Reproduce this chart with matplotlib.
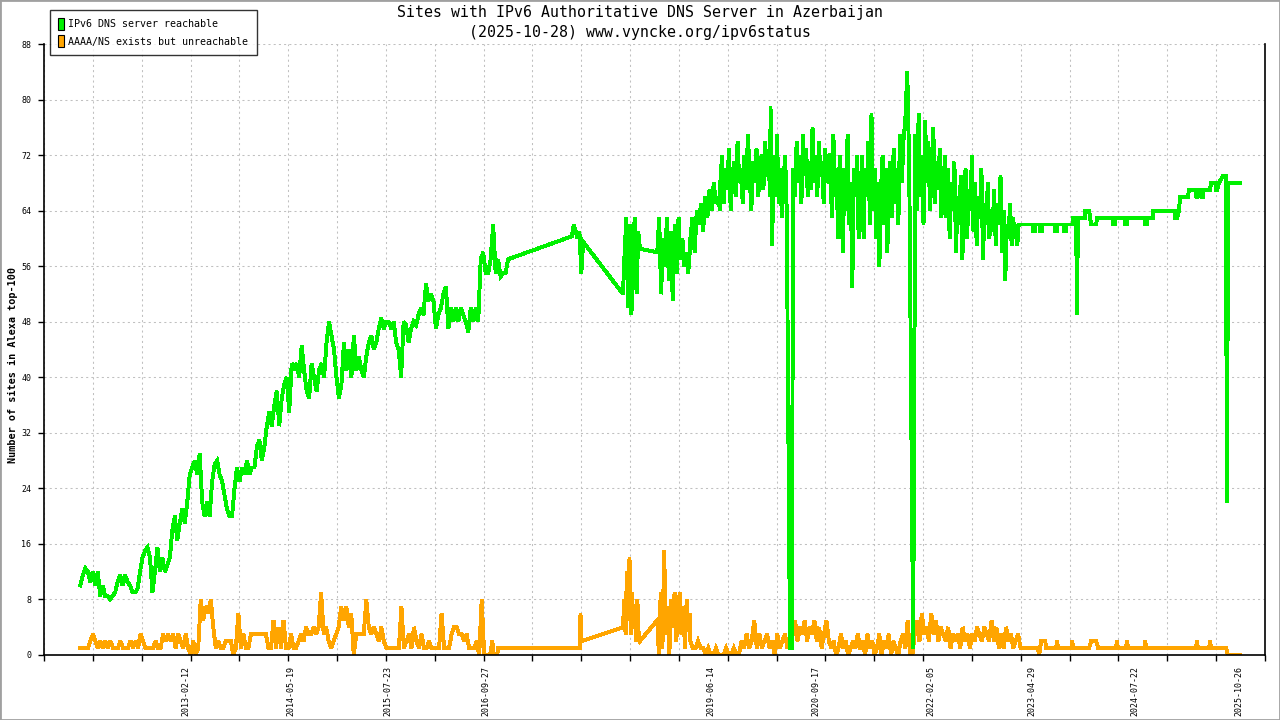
import numpy as np
import pandas as pd
import matplotlib
matplotlib.use("Agg")
import matplotlib.pyplot as plt
import matplotlib.dates as mdates
from matplotlib.patches import Patch, Rectangle

plt.rcParams['font.family'] = ['DejaVu Sans Mono']

GREEN = '#00f000'
ORANGE = '#ffa500'

# green: IPv6 DNS server reachable, noisy stretches (start, end, values)
g_2011 = [10, 11.5, 12.5, 12, 10.5, 12, 10, 12, 8.5, 10,
          8.5, 8.5, 8, 8.5, 9, 10.5, 11.5, 10, 11.5, 10.5,
          10, 9, 9, 9.5, 12, 14, 15, 15.5, 14, 9,
          12, 15.5, 12, 14, 12, 13, 14, 18, 20, 16.5,
          19, 21, 19, 22, 26, 27, 28, 26, 29, 22,
          20, 22, 20, 25, 27.5, 28, 26, 25, 23, 21,
          20, 20, 24, 27, 25, 27, 26, 28, 26, 27,
          27, 30, 31, 28, 30, 33, 35, 33, 36, 38,
          33, 37, 39, 40, 35, 42, 41, 42, 40, 44.5,
          41, 38, 37, 42, 40, 38, 41, 42, 40, 45,
          48, 46, 44, 40, 37, 39, 45, 41, 44, 40,
          46, 41, 43, 41, 40, 43, 45, 46, 44, 45,
          47, 48.5, 47, 48, 48, 47, 48, 45, 44, 40,
          48, 47.5, 45, 47, 48, 47.5, 49, 50, 49, 53.5,
          51, 52, 51, 47, 49, 50, 52, 53, 47, 50,
          48, 50, 48, 50, 49, 48, 46.5, 50, 48, 50,
          48, 57, 58, 55, 55, 57, 62, 55, 57, 54.5, 55, 55, 57]
g_2017 = [60.3, 62, 61, 60, 61, 55, 59.5]
g_2018a = [52, 58, 63, 50, 62, 49, 60, 63, 52, 61, 58.5]
g_2018b = [58, 63, 52, 60, 56, 63, 54, 61, 51, 62, 55, 63, 57, 60, 56, 58, 55, 59]
g_2019a = [60, 63, 58, 64, 62, 65, 61, 66, 63, 67, 64, 68, 65, 66, 64]
g_2019b = [68, 72, 65, 70, 67, 73, 64, 69, 71, 66, 74, 68, 70, 65, 72,
           67, 75, 69, 64, 71, 68, 73, 66, 70, 72, 67, 74, 69, 71, 66]
g_2020a = [79, 59, 72, 66, 75, 65, 70, 63, 68, 72, 64, 33, 1, 1, 67]
g_2020b = [70, 66, 74, 68, 72, 65, 75, 69, 73, 66, 71, 67, 76, 68, 72, 66,
           74, 69, 71, 65, 73, 68, 70, 72]
g_2020c = [72, 63, 75, 66, 70, 60, 72, 66, 58, 70, 64, 75, 62, 68, 53, 70,
           66, 72, 60, 67]
g_2021a = [65, 72, 60, 70, 66, 74, 62, 78, 64, 70, 60, 68, 56, 67, 72, 62,
           70, 58, 66, 71, 63, 73, 65, 70, 62, 75, 68, 72]
g_2021b = [74, 77, 84, 70, 36, 1, 68]
g_2021c = [75, 64, 78, 66, 72, 62, 77, 68, 74, 64, 70, 76, 65, 71, 67, 73, 63, 70]
g_2022 = [66, 72, 63, 70, 60, 68, 64, 71, 58, 66, 62, 69, 57, 65, 70, 60,
          67, 64, 72, 61, 68, 59, 66, 63, 70, 57, 65, 62, 68, 60, 64, 61,
          67, 59, 65, 62, 69, 58, 64, 54, 62, 60, 65, 59, 63]

green_segments = [
    ("2011-11-05", "2017-01-01", g_2011),
    ("2017-10-09", "2017-11-28", g_2017),
    ("2018-05-22", "2018-08-05", g_2018a),
    ("2018-10-20", "2019-03-14", g_2018b),
    ("2019-03-15", "2019-07-24", g_2019a),
    ("2019-07-25", "2020-03-01", g_2019b),
    ("2020-03-02", "2020-06-10", g_2020a),
    ("2020-06-11", "2020-11-19", g_2020b),
    ("2020-11-20", "2021-04-01", g_2020c),
    ("2021-04-02", "2021-10-07", g_2021a),
    ("2021-10-08", "2021-11-29", g_2021b),
    ("2021-11-30", "2022-04-01", g_2021c),
    ("2022-04-02", "2023-02-04", g_2022),
]

green_tail_dates = [
    "2023-02-10", "2023-02-16", "2023-02-22", "2023-02-28", "2023-05-02", "2023-05-03",
    "2023-05-11", "2023-05-12", "2023-06-02", "2023-06-03", "2023-06-10", "2023-06-11",
    "2023-08-07", "2023-08-08", "2023-08-16", "2023-08-17", "2023-09-16", "2023-09-17",
    "2023-09-25", "2023-09-26", "2023-10-26", "2023-10-27", "2023-11-08", "2023-11-12",
    "2023-11-16", "2023-12-18", "2023-12-19", "2024-01-04", "2024-01-13", "2024-02-04",
    "2024-02-09", "2024-04-19", "2024-04-20", "2024-04-28", "2024-04-29", "2024-06-11",
    "2024-06-12", "2024-06-19", "2024-06-20", "2024-09-07", "2024-09-08", "2024-09-15",
    "2024-09-16", "2024-10-12", "2024-10-13", "2025-01-17", "2025-01-18", "2025-01-26",
    "2025-02-03", "2025-02-08", "2025-03-15", "2025-03-19", "2025-04-20", "2025-04-21",
    "2025-04-26", "2025-04-27", "2025-05-15", "2025-05-16", "2025-05-20", "2025-05-21",
    "2025-06-20", "2025-06-24", "2025-07-16", "2025-07-17", "2025-07-21", "2025-07-29",
    "2025-08-16", "2025-08-29", "2025-08-31", "2025-09-03", "2025-09-07", "2025-10-28"]
green_tail_values = [
    60, 62, 59, 62, 62, 61,
    61, 62, 62, 61, 61, 62,
    62, 61, 61, 62, 62, 61,
    61, 62, 62, 63, 63, 49,
    63, 63, 64, 64, 62, 62,
    63, 63, 62, 62, 63, 63,
    62, 62, 63, 63, 62, 62,
    63, 63, 64, 64, 63, 63,
    64, 66, 66, 67, 67, 66,
    66, 67, 67, 66, 66, 67,
    67, 68, 68, 67, 67, 68,
    69, 69, 45, 22, 68, 68]

# orange: AAAA/NS exists but unreachable
o_2011 = [1, 1, 1, 1, 2, 3, 2, 1, 2, 1,
          2, 1, 2, 1, 1, 1, 2, 1, 1, 1,
          2, 1, 2, 1, 3, 2, 1, 1, 1, 1,
          2, 1, 1, 3, 2, 3, 2, 3, 1, 3,
          2, 1, 3, 1, 0, 2, 0, 1, 8, 5,
          7, 6, 8, 4, 1, 2, 1, 1, 2, 2,
          2, 0, 1, 6, 1, 3, 1, 1, 3, 3,
          3, 3, 3, 3, 3, 1, 1, 5, 1, 4,
          1, 5, 1, 1, 3, 1, 1, 2, 3, 2,
          4, 3, 3, 4, 3, 4, 9, 3, 4, 2,
          1, 2, 3, 4, 7, 5, 7, 4, 6, 0,
          3, 3, 3, 3, 8, 4, 3, 4, 3, 2,
          4, 2, 1, 1, 1, 1, 1, 1, 7, 1,
          2, 3, 1, 4, 2, 1, 3, 1, 1, 2,
          1, 1, 1, 1, 6, 1, 1, 1, 3, 4,
          4, 3, 3, 2, 3, 1, 1, 1, 2, 0,
          8, 0, 0, 0]
o_2018a = [4, 8, 3, 12, 5, 14, 3, 9, 4, 6, 2, 8, 3, 2]
o_2018b = [5, 0, 9, 1, 15, 3, 7, 0, 8, 4, 9, 2, 6, 9, 3, 7, 1, 8, 4, 6]
o_2019 = [2, 1, 1, 2, 1, 1, 0, 1, 0, 0, 1, 0, 0, 0, 1, 0, 0, 1, 0, 0,
          2, 1, 3, 1, 2, 5, 1, 3, 1, 2, 3, 1, 2, 0, 3, 1, 2, 3, 1, 2]
o_2020 = [1, 3, 5, 2, 4, 3, 5, 2, 4, 3, 5, 2, 4, 1, 3, 5, 2, 1, 2, 0,
          1, 3, 1, 2, 0, 1, 2, 1, 3, 1]
o_2021 = [1, 2, 0, 3, 1, 2, 0, 1, 3, 0, 2, 1, 3, 0, 2, 1, 0, 2, 3, 1,
          5, 0, 0, 3, 5, 2, 6, 3, 4, 2, 6, 3, 5, 2, 4, 3]
o_2022 = [3, 2, 4, 1, 3, 2, 3, 1, 4, 2, 3, 1, 3, 2, 4, 3, 2, 4, 3, 2,
          5, 2, 4, 1, 3, 1, 4, 2, 3, 1, 2, 3, 1, 1]

orange_segments = [
    ("2011-11-05", "2016-10-10", o_2011),
    ("2018-05-22", "2018-08-05", o_2018a),
    ("2018-10-20", "2019-03-14", o_2018b),
    ("2019-03-15", "2020-05-27", o_2019),
    ("2020-05-28", "2021-04-01", o_2020),
    ("2021-04-02", "2022-04-01", o_2021),
    ("2022-04-02", "2023-03-19", o_2022),
]
orange_gap_dates = ["2016-10-14", "2016-10-24", "2016-10-28", "2016-11-14", "2016-11-18",
                    "2017-11-14", "2017-11-16", "2017-11-20"]
orange_gap_values = [0, 2, 0, 0, 1, 1, 6, 2]
orange_tail_dates = [
    "2023-05-24", "2023-05-29", "2023-06-07", "2023-06-25", "2023-06-29", "2023-08-12",
    "2023-08-16", "2023-08-21", "2023-10-18", "2023-10-22", "2023-10-26", "2024-01-04",
    "2024-01-13", "2024-02-04", "2024-02-13", "2024-05-02", "2024-05-06", "2024-05-10",
    "2024-06-15", "2024-06-19", "2024-06-24", "2024-09-03", "2024-09-07", "2024-09-12",
    "2025-04-19", "2025-04-23", "2025-04-28", "2025-06-16", "2025-06-20", "2025-06-24",
    "2025-08-29", "2025-09-07", "2025-10-28"]
orange_tail_values = [
    1, 0, 2, 2, 1, 1,
    2, 1, 1, 2, 1, 1,
    2, 2, 1, 1, 2, 1,
    1, 2, 1, 1, 2, 1,
    1, 2, 1, 1, 2, 1,
    1, 0, 0]

tick_label_dates = ["2013-02-12", "2014-05-19", "2015-07-23", "2016-09-27", "2019-06-14",
                    "2020-09-17", "2022-02-05", "2023-04-29", "2024-07-22", "2025-10-26"]
y_ticks = list(range(0, 89, 8))


def expand(segments, extra):
    pts = []
    for start, end, vals in segments:
        pts += list(zip(pd.date_range(start, end, periods=len(vals)), vals))
    for dates, vals in extra:
        pts += list(zip(pd.to_datetime(dates), vals))
    pts.sort(key=lambda p: p[0])
    return [p[0] for p in pts], [p[1] for p in pts]


gx, gy = expand(green_segments, [(green_tail_dates, green_tail_values)])
ox, oy = expand(orange_segments, [(orange_gap_dates, orange_gap_values),
                                  (orange_tail_dates, orange_tail_values)])

W, H = 1280, 720
fig = plt.figure(figsize=(W / 100, H / 100), dpi=100)
ax = fig.add_axes([44 / W, (H - 655) / H, (1265 - 44) / W, (655 - 44) / H])

ax.plot(ox, oy, color=ORANGE, lw=2.1, antialiased=False, solid_joinstyle='miter')
ax.plot(gx, gy, color=GREEN, lw=2.1, antialiased=False, solid_joinstyle='miter')

x0 = mdates.date2num(pd.Timestamp("2011-05-29"))
x1 = mdates.date2num(pd.Timestamp("2026-02-17"))
ax.set_xlim(x0, x1)
ax.set_ylim(0, 88)

ax.set_xticks(mdates.date2num(pd.to_datetime(tick_label_dates)))
ax.set_xticklabels(tick_label_dates, rotation=90, fontsize=6)
ax.set_xticks(np.linspace(x0, x1, 26), minor=True)
ax.tick_params(axis='x', which='major', length=0, pad=8)
ax.tick_params(axis='x', which='minor', length=4, width=1, direction='out', color='black')
ax.set_yticks(y_ticks)
ax.set_yticklabels([str(v) for v in y_ticks], fontsize=6)
ax.tick_params(axis='y', length=4, width=1, pad=5, direction='out')

ax.grid(True, axis='x', which='minor', color='#c0c0c0', lw=0.75, dashes=(2, 3))
ax.grid(True, axis='y', which='major', color='#c0c0c0', lw=0.75, dashes=(2, 3))
ax.grid(False, axis='x', which='major')
ax.set_axisbelow(True)

ax.spines['top'].set_visible(False)
for s in ('left', 'bottom', 'right'):
    ax.spines[s].set_linewidth(1.2)

fig.text(0.5, 1 - 13 / H, "Sites with IPv6 Authoritative DNS Server in Azerbaijan",
         ha='center', va='center', fontsize=10.7)
fig.text(0.5, 1 - 32 / H, "(2025-10-28) www.vyncke.org/ipv6status",
         ha='center', va='center', fontsize=10.7)
fig.text(13 / W, 1 - 365 / H, "Number of sites in Alexa top-100", rotation=90,
         ha='center', va='center', fontsize=7.3, fontweight='bold')

handles = [Patch(facecolor=GREEN, edgecolor='black', lw=0.8, label='IPv6 DNS server reachable'),
           Patch(facecolor=ORANGE, edgecolor='black', lw=0.8, label='AAAA/NS exists but unreachable')]
leg = fig.legend(handles=handles, loc='upper left', bbox_to_anchor=(50 / W, 1 - 10 / H),
                 fontsize=7.2, frameon=True, fancybox=False, edgecolor='black',
                 handlelength=0.6, handleheight=1.5, handletextpad=0.45,
                 labelspacing=0.5, borderpad=0.8, borderaxespad=0)
leg.get_frame().set_linewidth(1)

fig.patches.append(Rectangle((0, 0), 1, 1, transform=fig.transFigure, fill=False,
                             edgecolor='#a0a0a0', lw=2))

fig.savefig("out.png", dpi=100)
